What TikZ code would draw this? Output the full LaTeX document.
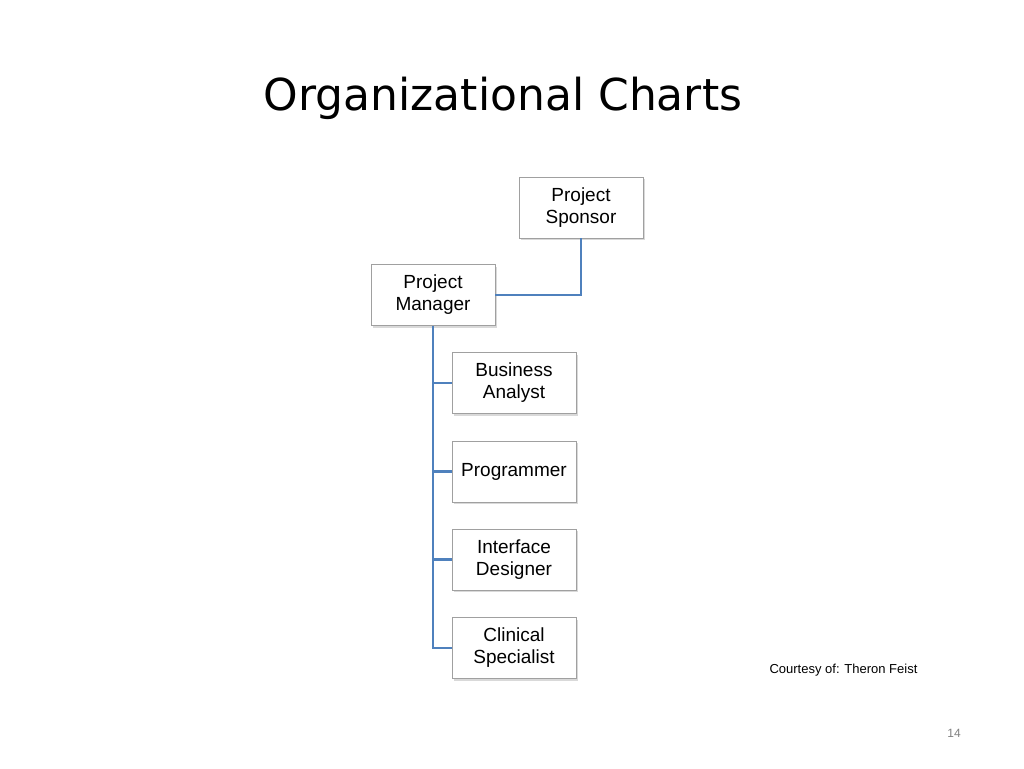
\documentclass[tikz,border=0pt]{standalone}
\usepackage{fontspec}
\setmainfont{Liberation Sans}
\newfontfamily\titlefont{DejaVu Sans}
\usetikzlibrary{shadows}
\definecolor{lineblue}{RGB}{79,129,189}
\definecolor{boxgray}{RGB}{160,160,160}
\begin{document}
\begin{tikzpicture}[x=1pt,y=-1pt,
  box/.style={draw=boxgray,fill=white,minimum width=124pt,minimum height=61pt,inner sep=0pt,align=center,font=\fontsize{19}{22}\selectfont,drop shadow={shadow xshift=2pt,shadow yshift=-2pt,opacity=0.3}},
  conn/.style={draw=lineblue,line width=2.2pt}]
\useasboundingbox (0,0) rectangle (1024,768);
\node[font=\titlefont\fontsize{44}{50}\selectfont] (title) at (503,98) {Organizational Charts};
\node[box] (ps) at (581,207.5) {Project\\Sponsor};
\node[box] (pm) at (433,295) {Project\\Manager};
\node[box] (ba) at (514,383) {Business\\Analyst};
\node[box] (pr) at (514,471.5) {Programmer};
\node[box] (id) at (514,559.5) {Interface\\Designer};
\node[box] (cs) at (514,648) {Clinical\\Specialist};
\coordinate (bot) at (433,648);
\draw[conn] (ps.south) |- (pm.east);
\draw[conn] (pm.south) -- (bot) -- (cs.west);
\foreach \n in {ba,pr,id} \draw[conn] (pm.south |- \n.west) -- (\n.west);
\node[font=\fontsize{13}{15}\selectfont,anchor=west] (court) at (766,670) {Courtesy of: Theron Feist};
\node[font=\fontsize{12}{14}\selectfont,text=gray] (pg) at (954,733) {14};
\end{tikzpicture}
\end{document}
